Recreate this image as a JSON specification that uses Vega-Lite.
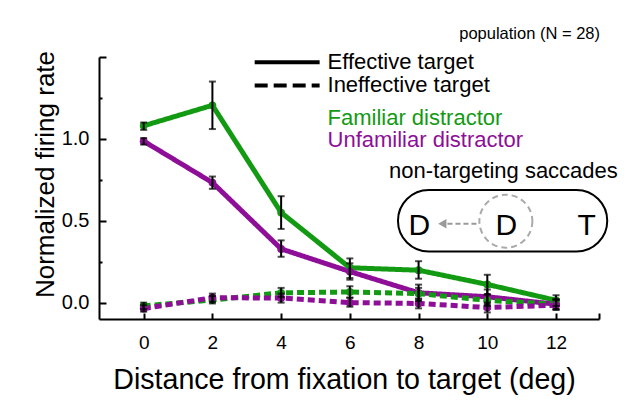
{
  "$schema": "https://vega.github.io/schema/vega-lite/v6.json",
  "autosize": {"type": "none"},
  "padding": {"left": 99, "top": 57, "right": 45, "bottom": 91},
  "width": 500,
  "height": 262,
  "background": "white",
  "config": {
    "view": {"stroke": null},
    "font": "Liberation Sans",
    "axis": {
      "grid": false,
      "domainColor": "black",
      "domainWidth": 2,
      "tickColor": "black",
      "tickWidth": 2,
      "labelColor": "black",
      "titleColor": "black",
      "labelFont": "Liberation Sans",
      "titleFont": "Liberation Sans",
      "titleFontWeight": "normal"
    }
  },
  "datasets": {
    "rates": [
      {"dist": 0, "cond": "Familiar", "target": "Effective", "rate": 1.08, "lo": 1.055, "hi": 1.1},
      {"dist": 2, "cond": "Familiar", "target": "Effective", "rate": 1.205, "lo": 1.06, "hi": 1.35},
      {"dist": 4, "cond": "Familiar", "target": "Effective", "rate": 0.55, "lo": 0.45, "hi": 0.65},
      {"dist": 6, "cond": "Familiar", "target": "Effective", "rate": 0.213, "lo": 0.15, "hi": 0.27},
      {"dist": 8, "cond": "Familiar", "target": "Effective", "rate": 0.198, "lo": 0.146, "hi": 0.253},
      {"dist": 10, "cond": "Familiar", "target": "Effective", "rate": 0.111, "lo": 0.05, "hi": 0.17},
      {"dist": 12, "cond": "Familiar", "target": "Effective", "rate": 0.014, "lo": -0.02, "hi": 0.045},
      {"dist": 0, "cond": "Unfamiliar", "target": "Effective", "rate": 0.986, "lo": 0.965, "hi": 1.005},
      {"dist": 2, "cond": "Unfamiliar", "target": "Effective", "rate": 0.733, "lo": 0.695, "hi": 0.77},
      {"dist": 4, "cond": "Unfamiliar", "target": "Effective", "rate": 0.328, "lo": 0.28, "hi": 0.38},
      {"dist": 6, "cond": "Unfamiliar", "target": "Effective", "rate": 0.19, "lo": 0.14, "hi": 0.24},
      {"dist": 8, "cond": "Unfamiliar", "target": "Effective", "rate": 0.06, "lo": 0.01, "hi": 0.11},
      {"dist": 10, "cond": "Unfamiliar", "target": "Effective", "rate": 0.036, "lo": -0.01, "hi": 0.08},
      {"dist": 12, "cond": "Unfamiliar", "target": "Effective", "rate": -0.01, "lo": -0.04, "hi": 0.02},
      {"dist": 0, "cond": "Familiar", "target": "Ineffective", "rate": -0.02, "lo": -0.04, "hi": 0.0},
      {"dist": 2, "cond": "Familiar", "target": "Ineffective", "rate": 0.016, "lo": -0.005, "hi": 0.04},
      {"dist": 4, "cond": "Familiar", "target": "Ineffective", "rate": 0.06, "lo": 0.035, "hi": 0.09},
      {"dist": 6, "cond": "Familiar", "target": "Ineffective", "rate": 0.065, "lo": 0.03, "hi": 0.1},
      {"dist": 8, "cond": "Familiar", "target": "Ineffective", "rate": 0.055, "lo": 0.02, "hi": 0.09},
      {"dist": 10, "cond": "Familiar", "target": "Ineffective", "rate": 0.014, "lo": -0.02, "hi": 0.05},
      {"dist": 12, "cond": "Familiar", "target": "Ineffective", "rate": -0.01, "lo": -0.04, "hi": 0.02},
      {"dist": 0, "cond": "Unfamiliar", "target": "Ineffective", "rate": -0.036, "lo": -0.055, "hi": -0.015},
      {"dist": 2, "cond": "Unfamiliar", "target": "Ineffective", "rate": 0.03, "lo": 0.005, "hi": 0.055},
      {"dist": 4, "cond": "Unfamiliar", "target": "Ineffective", "rate": 0.028, "lo": 0.0, "hi": 0.055},
      {"dist": 6, "cond": "Unfamiliar", "target": "Ineffective", "rate": 0.0, "lo": -0.025, "hi": 0.03},
      {"dist": 8, "cond": "Unfamiliar", "target": "Ineffective", "rate": -0.005, "lo": -0.035, "hi": 0.025},
      {"dist": 10, "cond": "Unfamiliar", "target": "Ineffective", "rate": -0.03, "lo": -0.06, "hi": 0.0},
      {"dist": 12, "cond": "Unfamiliar", "target": "Ineffective", "rate": -0.016, "lo": -0.045, "hi": 0.015}
    ]
  },
  "resolve": {"axis": {"y": "independent"}},
  "layer": [
    {
      "data": {"name": "rates"},
      "mark": {"type": "line", "strokeWidth": 5, "clip": false},
      "encoding": {
        "x": {
          "field": "dist", "type": "quantitative",
          "scale": {"domain": [-1.3, 13.25], "nice": false, "zero": false},
          "axis": {
            "title": "Distance from fixation to target (deg)",
            "titleFontSize": 28.6,
            "titlePadding": 13,
            "titleX": 245,
            "values": [0, 2, 4, 6, 8, 10, 12, 13.25],
            "labelExpr": "datum.value > 12.5 ? '' : datum.label",
            "labelFontSize": 19,
            "tickSize": -6,
            "labelPadding": 20
          }
        },
        "y": {
          "field": "rate", "type": "quantitative",
          "scale": {"domain": [-0.1, 1.5], "nice": false, "zero": false},
          "axis": {
            "orient": "left",
            "title": "Normalized firing rate",
            "titleFontSize": 26,
            "titlePadding": 3,
            "titleY": 117,
            "values": [0, 0.5, 1, 1.5],
            "labelExpr": "datum.value > 1.2 ? '' : format(datum.value, '.1f')",
            "labelFontSize": 20,
            "tickSize": -7,
            "labelPadding": 17
          }
        },
        "color": {
          "field": "cond", "type": "nominal",
          "scale": {"domain": ["Familiar", "Unfamiliar"], "range": ["#139a13", "#8e0e98"]},
          "legend": null
        },
        "strokeDash": {
          "field": "target", "type": "nominal",
          "scale": {"domain": ["Effective", "Ineffective"], "range": [[1, 0], [7, 4]]},
          "legend": null
        }
      }
    },
    {
      "data": {"name": "rates"},
      "mark": {"type": "point", "filled": true, "opacity": 1, "size": 60, "clip": false},
      "encoding": {
        "x": {"field": "dist", "type": "quantitative"},
        "y": {
          "field": "rate", "type": "quantitative",
          "axis": {
            "orient": "left",
            "title": null,
            "values": [0.25, 0.75, 1.25],
            "labels": false,
            "domain": false,
            "tickSize": -3
          }
        },
        "color": {"field": "cond", "type": "nominal", "legend": null}
      }
    },
    {
      "data": {"name": "rates"},
      "mark": {
        "type": "errorbar",
        "color": "black",
        "rule": {"strokeWidth": 2},
        "ticks": {"size": 7, "thickness": 2, "color": "black"}
      },
      "encoding": {
        "x": {"field": "dist", "type": "quantitative"},
        "y": {"field": "lo", "type": "quantitative", "axis": null},
        "y2": {"field": "hi"}
      }
    },
    {
      "data": {"values": [{"x": 3.23, "x2": 5.12, "y": 1.468}]},
      "mark": {"type": "rule", "color": "black", "strokeWidth": 4, "clip": false},
      "encoding": {
        "x": {"field": "x", "type": "quantitative"},
        "x2": {"field": "x2"},
        "y": {"field": "y", "type": "quantitative", "axis": null}
      }
    },
    {
      "data": {"values": [{"x": 3.23, "x2": 5.12, "y": 1.326}]},
      "mark": {"type": "rule", "color": "black", "strokeWidth": 4, "strokeDash": [13, 6], "clip": false},
      "encoding": {
        "x": {"field": "x", "type": "quantitative"},
        "x2": {"field": "x2"},
        "y": {"field": "y", "type": "quantitative", "axis": null}
      }
    },
    {
      "data": {"values": [
        {"x": 5.35, "y": 1.428, "label": "Effective target"},
        {"x": 5.35, "y": 1.286, "label": "Ineffective target"}
      ]},
      "mark": {"type": "text", "align": "left", "baseline": "alphabetic", "fontSize": 22, "color": "black", "clip": false},
      "encoding": {
        "x": {"field": "x", "type": "quantitative"},
        "y": {"field": "y", "type": "quantitative", "axis": null},
        "text": {"field": "label"}
      }
    },
    {
      "data": {"values": [{"x": 5.35, "y": 1.083, "label": "Familiar distractor"}]},
      "mark": {"type": "text", "align": "left", "baseline": "alphabetic", "fontSize": 22, "color": "#139a13", "clip": false},
      "encoding": {
        "x": {"field": "x", "type": "quantitative"},
        "y": {"field": "y", "type": "quantitative", "axis": null},
        "text": {"field": "label"}
      }
    },
    {
      "data": {"values": [{"x": 5.35, "y": 0.95, "label": "Unfamiliar distractor"}]},
      "mark": {"type": "text", "align": "left", "baseline": "alphabetic", "fontSize": 22, "color": "#8e0e98", "clip": false},
      "encoding": {
        "x": {"field": "x", "type": "quantitative"},
        "y": {"field": "y", "type": "quantitative", "axis": null},
        "text": {"field": "label"}
      }
    },
    {
      "data": {"values": [{"x": 13.28, "y": 1.61, "label": "population (N = 28)"}]},
      "mark": {"type": "text", "align": "right", "baseline": "alphabetic", "fontSize": 16.5, "color": "black", "clip": false},
      "encoding": {
        "x": {"field": "x", "type": "quantitative"},
        "y": {"field": "y", "type": "quantitative", "axis": null},
        "text": {"field": "label"}
      }
    },
    {
      "data": {"values": [{"x": 10.47, "y": 0.759, "label": "non-targeting saccades"}]},
      "mark": {"type": "text", "align": "center", "baseline": "alphabetic", "fontSize": 22, "color": "black", "clip": false},
      "encoding": {
        "x": {"field": "x", "type": "quantitative"},
        "y": {"field": "y", "type": "quantitative", "axis": null},
        "text": {"field": "label"}
      }
    },
    {
      "data": {"values": [{"x": 7.4, "x2": 13.49, "y": 0.688, "y2": 0.312}]},
      "mark": {"type": "rect", "fill": null, "stroke": "black", "strokeWidth": 2, "cornerRadius": 31, "clip": false},
      "encoding": {
        "x": {"field": "x", "type": "quantitative"},
        "x2": {"field": "x2"},
        "y": {"field": "y", "type": "quantitative", "axis": null},
        "y2": {"field": "y2"}
      }
    },
    {
      "data": {"values": [{"x": 8.84, "x2": 9.77, "y": 0.482}]},
      "mark": {"type": "rule", "color": "#9a9a9a", "strokeWidth": 2, "strokeDash": [5, 3], "clip": false},
      "encoding": {
        "x": {"field": "x", "type": "quantitative"},
        "x2": {"field": "x2"},
        "y": {"field": "y", "type": "quantitative", "axis": null}
      }
    },
    {
      "data": {"values": [{"x": 8.69, "y": 0.482}]},
      "mark": {"type": "point", "shape": "triangle-left", "filled": true, "opacity": 1, "color": "#9a9a9a", "size": 90, "clip": false},
      "encoding": {
        "x": {"field": "x", "type": "quantitative"},
        "y": {"field": "y", "type": "quantitative", "axis": null}
      }
    },
    {
      "data": {"values": [{"x": 10.54, "y": 0.497}]},
      "mark": {"type": "point", "shape": "circle", "filled": false, "opacity": 1, "stroke": "#aaaaaa", "strokeWidth": 2, "strokeDash": [6, 4], "size": 2809, "clip": false},
      "encoding": {
        "x": {"field": "x", "type": "quantitative"},
        "y": {"field": "y", "type": "quantitative", "axis": null}
      }
    },
    {
      "data": {"values": [
        {"x": 8.02, "y": 0.415, "label": "D"},
        {"x": 10.55, "y": 0.415, "label": "D"},
        {"x": 12.89, "y": 0.415, "label": "T"}
      ]},
      "mark": {"type": "text", "align": "center", "baseline": "alphabetic", "fontSize": 30, "color": "black", "clip": false},
      "encoding": {
        "x": {"field": "x", "type": "quantitative"},
        "y": {"field": "y", "type": "quantitative", "axis": null},
        "text": {"field": "label"}
      }
    }
  ]
}
